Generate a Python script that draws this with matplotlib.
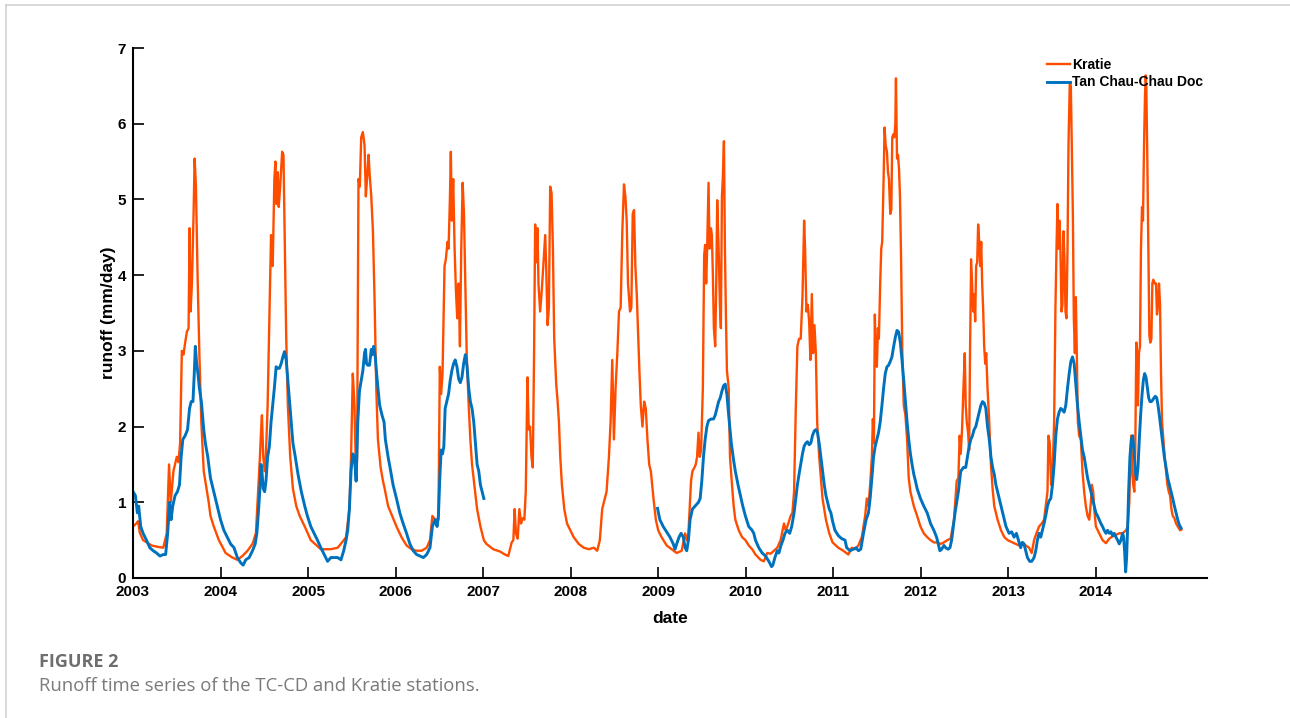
import matplotlib
matplotlib.use("Agg")
import matplotlib.pyplot as plt
from matplotlib.lines import Line2D

# Kratie runoff (mm/day), sampled at the turning points of the daily record
kratie_t = [
    2003.000, 2003.038, 2003.058, 2003.077, 2003.115, 2003.212, 2003.288, 2003.346, 2003.385, 2003.412,
    2003.431, 2003.462, 2003.500, 2003.519, 2003.538, 2003.558, 2003.577, 2003.596, 2003.615, 2003.635,
    2003.646, 2003.658, 2003.673, 2003.692, 2003.704, 2003.719, 2003.738, 2003.758, 2003.781, 2003.808,
    2003.846, 2003.865, 2003.885, 2003.923, 2003.981,
    2004.058, 2004.135, 2004.192, 2004.250, 2004.308, 2004.365, 2004.404, 2004.423, 2004.450, 2004.462,
    2004.473, 2004.488, 2004.504, 2004.519, 2004.538, 2004.558, 2004.577, 2004.596, 2004.615, 2004.627,
    2004.638, 2004.654, 2004.665, 2004.681, 2004.704, 2004.719, 2004.735, 2004.750, 2004.769, 2004.796,
    2004.827, 2004.865, 2004.904, 2004.962,
    2005.031, 2005.146, 2005.261, 2005.338, 2005.395, 2005.434, 2005.472, 2005.491, 2005.511, 2005.530,
    2005.549, 2005.560, 2005.576, 2005.591, 2005.607, 2005.626, 2005.645, 2005.660, 2005.676, 2005.691,
    2005.702, 2005.722, 2005.741, 2005.760, 2005.779, 2005.798, 2005.829, 2005.856, 2005.875, 2005.914,
    2005.960,
    2006.010, 2006.067, 2006.125, 2006.182, 2006.240, 2006.298, 2006.355, 2006.393, 2006.420, 2006.451,
    2006.489, 2006.505, 2006.520, 2006.536, 2006.559, 2006.574, 2006.593, 2006.605, 2006.620, 2006.631,
    2006.643, 2006.658, 2006.674, 2006.689, 2006.704, 2006.720, 2006.735, 2006.750, 2006.766, 2006.781,
    2006.797, 2006.812, 2006.835, 2006.854, 2006.873, 2006.904, 2006.931, 2006.969,
    2007.008, 2007.038, 2007.115, 2007.192, 2007.249, 2007.287, 2007.307, 2007.326, 2007.345, 2007.360,
    2007.375, 2007.395, 2007.414, 2007.433, 2007.452, 2007.471, 2007.487, 2007.506, 2007.521, 2007.536,
    2007.552, 2007.567, 2007.582, 2007.594, 2007.605, 2007.621, 2007.632, 2007.651, 2007.670, 2007.690,
    2007.709, 2007.720, 2007.736, 2007.751, 2007.766, 2007.782, 2007.797, 2007.812, 2007.835, 2007.851,
    2007.866, 2007.881, 2007.900, 2007.927, 2007.958, 2007.996,
    2008.034, 2008.092, 2008.149, 2008.207, 2008.264, 2008.303, 2008.333, 2008.360, 2008.379, 2008.410,
    2008.437, 2008.456, 2008.475, 2008.494, 2008.513, 2008.533, 2008.552, 2008.571, 2008.590, 2008.609,
    2008.625, 2008.640, 2008.655, 2008.678, 2008.693, 2008.709, 2008.724, 2008.739, 2008.755, 2008.770,
    2008.785, 2008.801, 2008.820, 2008.839, 2008.858, 2008.877, 2008.897, 2008.916, 2008.946, 2008.973,
    2009.000, 2009.038, 2009.096, 2009.153, 2009.211, 2009.268, 2009.307, 2009.326, 2009.345, 2009.375,
    2009.391, 2009.414, 2009.429, 2009.444, 2009.460, 2009.475, 2009.490, 2009.510, 2009.525, 2009.536,
    2009.548, 2009.559, 2009.575, 2009.586, 2009.602, 2009.613, 2009.625, 2009.636, 2009.651, 2009.663,
    2009.674, 2009.690, 2009.705, 2009.716, 2009.728, 2009.739, 2009.751, 2009.762, 2009.774, 2009.785,
    2009.805, 2009.820, 2009.843, 2009.862, 2009.881, 2009.920, 2009.958, 2009.996,
    2010.034, 2010.073, 2010.111, 2010.169, 2010.207, 2010.245, 2010.284, 2010.322, 2010.360, 2010.398,
    2010.437, 2010.456, 2010.475, 2010.513, 2010.533, 2010.552, 2010.571, 2010.590, 2010.609, 2010.628,
    2010.648, 2010.667, 2010.678, 2010.693, 2010.709, 2010.724, 2010.739, 2010.755, 2010.770, 2010.785,
    2010.801, 2010.816, 2010.839, 2010.858, 2010.877, 2010.916, 2010.954, 2010.992,
    2011.057, 2011.115, 2011.172, 2011.211, 2011.249, 2011.287, 2011.326, 2011.364, 2011.383, 2011.402,
    2011.421, 2011.441, 2011.452, 2011.464, 2011.475, 2011.487, 2011.498, 2011.510, 2011.521, 2011.536,
    2011.548, 2011.559, 2011.575, 2011.586, 2011.598, 2011.613, 2011.625, 2011.636, 2011.651, 2011.663,
    2011.674, 2011.686, 2011.697, 2011.709, 2011.716, 2011.728, 2011.739, 2011.751, 2011.762, 2011.774,
    2011.789, 2011.805, 2011.824, 2011.843, 2011.862, 2011.881, 2011.920, 2011.958, 2011.996,
    2012.034, 2012.073, 2012.111, 2012.149, 2012.188, 2012.226, 2012.264, 2012.303, 2012.341, 2012.379,
    2012.410, 2012.429, 2012.444, 2012.456, 2012.471, 2012.487, 2012.502, 2012.513, 2012.525, 2012.540,
    2012.552, 2012.563, 2012.575, 2012.586, 2012.598, 2012.609, 2012.621, 2012.632, 2012.644, 2012.655,
    2012.667, 2012.678, 2012.690, 2012.701, 2012.713, 2012.724, 2012.736, 2012.747, 2012.762, 2012.782,
    2012.801, 2012.820, 2012.839, 2012.877, 2012.916, 2012.954, 2012.992,
    2013.046, 2013.084, 2013.122, 2013.160, 2013.198, 2013.237, 2013.267, 2013.294, 2013.321, 2013.351,
    2013.382, 2013.408, 2013.427, 2013.447, 2013.458, 2013.473, 2013.489, 2013.504, 2013.523, 2013.538,
    2013.550, 2013.561, 2013.573, 2013.584, 2013.595, 2013.607, 2013.618, 2013.630, 2013.641, 2013.653,
    2013.664, 2013.676, 2013.687, 2013.702, 2013.714, 2013.725, 2013.737, 2013.748, 2013.760, 2013.771,
    2013.782, 2013.794, 2013.809, 2013.828, 2013.847, 2013.866, 2013.885, 2013.905, 2013.924, 2013.943,
    2013.954, 2013.969, 2013.985,
    2014.000, 2014.038, 2014.076, 2014.115, 2014.153, 2014.191, 2014.229, 2014.267, 2014.305, 2014.344,
    2014.363, 2014.382, 2014.393, 2014.405, 2014.416, 2014.427, 2014.439, 2014.450, 2014.462, 2014.473,
    2014.481, 2014.492, 2014.504, 2014.515, 2014.527, 2014.538, 2014.550, 2014.561, 2014.569, 2014.576,
    2014.588, 2014.599, 2014.611, 2014.622, 2014.634, 2014.645, 2014.656, 2014.672, 2014.687, 2014.698,
    2014.710, 2014.721, 2014.733, 2014.744, 2014.756, 2014.771, 2014.786, 2014.802, 2014.817, 2014.832,
    2014.847, 2014.863, 2014.878, 2014.897, 2014.916, 2014.935, 2014.962, 2014.977,
]
kratie_q = [
    0.68, 0.72, 0.75, 0.60, 0.50, 0.43, 0.41, 0.40, 0.59, 1.50,
    1.00, 1.41, 1.60, 1.53, 1.78, 3.00, 2.95, 3.11, 3.25, 3.30,
    4.62, 3.52, 3.89, 4.81, 5.54, 5.17, 3.98, 2.97, 2.05, 1.41,
    1.14, 1.00, 0.82, 0.68, 0.50,
    0.33, 0.27, 0.24, 0.29, 0.36, 0.45, 0.59, 1.00, 1.60, 1.92,
    2.15, 1.60, 1.41, 1.64, 2.28, 3.43, 4.53, 4.12, 5.27, 5.50,
    4.94, 5.36, 4.90, 5.17, 5.63, 5.59, 4.35, 3.20, 2.28, 1.60,
    1.18, 0.95, 0.82, 0.68,
    0.50, 0.38, 0.38, 0.40, 0.48, 0.54, 0.91, 1.60, 2.70, 2.28,
    1.28, 1.60, 5.27, 5.17, 5.82, 5.89, 5.72, 5.04, 5.31, 5.59,
    5.36, 5.04, 4.58, 3.66, 2.51, 1.83, 1.46, 1.28, 1.18, 0.95,
    0.82,
    0.68, 0.54, 0.43, 0.38, 0.36, 0.36, 0.40, 0.50, 0.82, 0.77,
    0.77, 2.79, 2.43, 2.70, 4.12, 4.21, 4.44, 4.35, 4.99, 5.63,
    4.72, 5.27, 4.35, 3.80, 3.43, 3.89, 3.06, 4.35, 5.22, 4.81,
    3.89, 2.97, 2.28, 1.83, 1.50, 1.18, 0.91, 0.68,
    0.50, 0.45, 0.38, 0.35, 0.31, 0.29, 0.38, 0.47, 0.50, 0.91,
    0.59, 0.52, 0.91, 0.72, 0.79, 0.77, 1.14, 2.65, 1.96, 2.00,
    1.60, 1.46, 2.97, 4.67, 4.17, 4.62, 3.89, 3.52, 3.80, 4.17,
    4.53, 4.12, 3.34, 3.57, 5.17, 5.08, 4.35, 3.16, 2.56, 2.33,
    2.06, 1.60, 1.23, 0.91, 0.72, 0.63,
    0.54, 0.45, 0.40, 0.38, 0.40, 0.36, 0.50, 0.91, 1.00, 1.14,
    1.60, 2.06, 2.88, 1.83, 2.51, 2.97, 3.52, 3.57, 4.58, 5.20,
    5.04, 4.72, 3.89, 3.52, 3.57, 4.81, 4.86, 4.12, 3.75, 3.25,
    2.74, 2.28, 2.00, 2.33, 2.24, 1.83, 1.50, 1.41, 1.05, 0.77,
    0.63, 0.54, 0.43, 0.38, 0.33, 0.36, 0.59, 0.50, 0.59, 1.28,
    1.41, 1.46, 1.50, 1.60, 1.92, 1.60, 1.69, 2.51, 4.26, 4.40,
    3.89, 4.35, 5.22, 4.35, 4.62, 4.53, 3.98, 3.30, 3.06, 3.89,
    4.99, 4.35, 3.61, 3.30, 5.04, 5.31, 5.77, 4.35, 3.43, 2.74,
    2.51, 1.60, 1.23, 0.95, 0.77, 0.63, 0.54, 0.50,
    0.43, 0.38, 0.31, 0.24, 0.22, 0.33, 0.32, 0.36, 0.40, 0.50,
    0.72, 0.63, 0.68, 0.82, 0.86, 1.14, 2.20, 3.06, 3.16, 3.16,
    3.71, 4.72, 4.35, 3.52, 3.61, 3.39, 2.88, 3.75, 2.97, 3.34,
    2.97, 2.06, 1.60, 1.32, 1.05, 0.77, 0.59, 0.47,
    0.40, 0.36, 0.31, 0.40, 0.38, 0.43, 0.54, 0.82, 1.05, 0.95,
    1.23, 1.60, 2.10, 1.78, 3.48, 2.83, 2.79, 3.30, 3.16, 3.89,
    4.35, 4.44, 5.27, 5.95, 5.72, 5.63, 5.36, 5.27, 4.81, 4.86,
    5.82, 5.86, 5.82, 6.00, 6.60, 5.54, 5.59, 5.40, 5.04, 4.26,
    2.97, 2.28, 2.15, 1.83, 1.32, 1.14, 0.95, 0.82, 0.68,
    0.59, 0.54, 0.50, 0.47, 0.47, 0.45, 0.47, 0.50, 0.52, 0.77,
    1.28, 1.32, 1.88, 1.64, 1.96, 2.51, 2.97, 2.28, 2.06, 1.92,
    1.69, 3.06, 4.21, 3.89, 3.52, 3.75, 3.39, 4.12, 4.17, 4.67,
    4.44, 4.12, 4.44, 3.89, 3.52, 3.06, 2.83, 2.97, 2.51, 2.06,
    1.50, 1.18, 0.95, 0.77, 0.63, 0.54, 0.50,
    0.47, 0.45, 0.43, 0.47, 0.43, 0.40, 0.33, 0.50, 0.59, 0.68,
    0.72, 0.77, 0.95, 1.14, 1.88, 1.78, 1.23, 1.37, 2.06, 3.57,
    4.35, 4.94, 4.35, 4.72, 4.35, 3.52, 3.61, 4.58, 4.21, 3.52,
    3.43, 4.35, 5.72, 6.55, 6.50, 5.72, 4.81, 3.43, 2.97, 3.71,
    2.97, 2.06, 1.88, 1.83, 1.41, 1.14, 0.95, 0.82, 0.77, 1.00,
    1.23, 1.14, 0.86,
    0.68, 0.59, 0.50, 0.46, 0.52, 0.55, 0.57, 0.59, 0.59, 0.63,
    0.68, 1.00, 1.60, 1.88, 1.37, 1.23, 1.14, 1.69, 3.11, 2.70,
    2.28, 2.97, 3.06, 4.35, 4.90, 4.72, 5.72, 6.37, 6.64, 6.50,
    5.50, 4.35, 3.20, 3.11, 3.16, 3.89, 3.94, 3.89, 3.89, 3.48,
    3.61, 3.89, 3.61, 2.70, 2.06, 1.83, 1.60, 1.41, 1.23, 1.14,
    1.09, 0.91, 0.82, 0.79, 0.72, 0.68, 0.63, 0.64,
]

# Tan Chau-Chau Doc runoff (mm/day); no record between 2007 and 2009
nan = float("nan")
tccd_t = [
    2003.000, 2003.027, 2003.050, 2003.065, 2003.088, 2003.115, 2003.154, 2003.192, 2003.231, 2003.269,
    2003.308, 2003.346, 2003.373, 2003.396, 2003.419, 2003.435, 2003.454, 2003.481, 2003.508, 2003.531,
    2003.550, 2003.569, 2003.596, 2003.623, 2003.646, 2003.665, 2003.685, 2003.700, 2003.712, 2003.727,
    2003.742, 2003.758, 2003.781, 2003.808, 2003.827, 2003.854, 2003.885, 2003.923, 2003.962,
    2004.000, 2004.038, 2004.077, 2004.115, 2004.154, 2004.192, 2004.231, 2004.258, 2004.288, 2004.327,
    2004.365, 2004.396, 2004.415, 2004.435, 2004.450, 2004.462, 2004.473, 2004.488, 2004.504, 2004.519,
    2004.538, 2004.558, 2004.577, 2004.596, 2004.615, 2004.635, 2004.654, 2004.673, 2004.692, 2004.712,
    2004.731, 2004.750, 2004.769, 2004.788, 2004.808, 2004.827, 2004.854, 2004.885, 2004.923, 2004.962,
    2004.992,
    2005.031, 2005.069, 2005.107, 2005.146, 2005.184, 2005.223, 2005.261, 2005.299, 2005.338, 2005.376,
    2005.407, 2005.434, 2005.453, 2005.472, 2005.491, 2005.511, 2005.530, 2005.549, 2005.568, 2005.587,
    2005.607, 2005.626, 2005.645, 2005.656, 2005.668, 2005.683, 2005.702, 2005.722, 2005.733, 2005.749,
    2005.768, 2005.783, 2005.798, 2005.818, 2005.845, 2005.868, 2005.883, 2005.914, 2005.944, 2005.971,
    2006.010, 2006.048, 2006.086, 2006.125, 2006.163, 2006.202, 2006.240, 2006.278, 2006.317, 2006.355,
    2006.393, 2006.420, 2006.451, 2006.474, 2006.489, 2006.505, 2006.520, 2006.536, 2006.551, 2006.566,
    2006.585, 2006.605, 2006.624, 2006.643, 2006.662, 2006.681, 2006.701, 2006.720, 2006.739, 2006.758,
    2006.777, 2006.797, 2006.816, 2006.835, 2006.854, 2006.873, 2006.893, 2006.912, 2006.931, 2006.950,
    2006.969, 2006.988, 2007.008,
    2008.000,
    2008.992, 2009.019, 2009.057, 2009.096, 2009.134, 2009.172, 2009.192, 2009.211, 2009.238, 2009.261,
    2009.287, 2009.307, 2009.326, 2009.345, 2009.364, 2009.391, 2009.421, 2009.460, 2009.479, 2009.498,
    2009.517, 2009.536, 2009.556, 2009.575, 2009.605, 2009.632, 2009.651, 2009.670, 2009.690, 2009.709,
    2009.728, 2009.747, 2009.766, 2009.785, 2009.805, 2009.835, 2009.862, 2009.881, 2009.912, 2009.939,
    2009.966, 2009.996,
    2010.034, 2010.073, 2010.092, 2010.111, 2010.149, 2010.188, 2010.226, 2010.264, 2010.295, 2010.310,
    2010.333, 2010.360, 2010.379, 2010.402, 2010.425, 2010.448, 2010.475, 2010.502, 2010.525, 2010.552,
    2010.571, 2010.590, 2010.609, 2010.628, 2010.648, 2010.667, 2010.686, 2010.705, 2010.724, 2010.743,
    2010.762, 2010.782, 2010.801, 2010.820, 2010.839, 2010.858, 2010.877, 2010.897, 2010.916, 2010.935,
    2010.954, 2010.973, 2010.992,
    2011.019, 2011.057, 2011.096, 2011.134, 2011.153, 2011.192, 2011.230, 2011.261, 2011.287, 2011.314,
    2011.345, 2011.375, 2011.402, 2011.421, 2011.441, 2011.460, 2011.479, 2011.498, 2011.517, 2011.536,
    2011.556, 2011.575, 2011.594, 2011.613, 2011.632, 2011.651, 2011.670, 2011.690, 2011.709, 2011.728,
    2011.747, 2011.766, 2011.785, 2011.805, 2011.824, 2011.843, 2011.862, 2011.881, 2011.900, 2011.920,
    2011.939, 2011.958, 2011.996,
    2012.034, 2012.073, 2012.111, 2012.149, 2012.180, 2012.195, 2012.218, 2012.238, 2012.264, 2012.284,
    2012.310, 2012.333, 2012.352, 2012.372, 2012.391, 2012.410, 2012.429, 2012.456, 2012.487, 2012.513,
    2012.533, 2012.552, 2012.571, 2012.590, 2012.609, 2012.628, 2012.648, 2012.667, 2012.686, 2012.705,
    2012.724, 2012.743, 2012.762, 2012.782, 2012.801, 2012.820, 2012.839, 2012.858, 2012.877, 2012.897,
    2012.916, 2012.935, 2012.954, 2012.973,
    2013.008, 2013.038, 2013.065, 2013.092, 2013.115, 2013.141, 2013.160, 2013.179, 2013.198, 2013.218,
    2013.244, 2013.267, 2013.294, 2013.313, 2013.332, 2013.351, 2013.370, 2013.389, 2013.408, 2013.427,
    2013.447, 2013.466, 2013.485, 2013.504, 2013.523, 2013.542, 2013.561, 2013.580, 2013.599, 2013.618,
    2013.637, 2013.656, 2013.676, 2013.695, 2013.714, 2013.733, 2013.752, 2013.771, 2013.790, 2013.809,
    2013.828, 2013.847, 2013.866, 2013.885, 2013.905, 2013.924, 2013.943, 2013.962, 2013.981,
    2014.000, 2014.019, 2014.038, 2014.057, 2014.076, 2014.095, 2014.115, 2014.134, 2014.153, 2014.172,
    2014.191, 2014.210, 2014.229, 2014.248, 2014.267, 2014.286, 2014.305, 2014.317, 2014.328, 2014.340,
    2014.351, 2014.363, 2014.374, 2014.389, 2014.405, 2014.420, 2014.435, 2014.450, 2014.466, 2014.481,
    2014.496, 2014.511, 2014.527, 2014.542, 2014.557, 2014.573, 2014.588, 2014.603, 2014.618, 2014.634,
    2014.649, 2014.664, 2014.679, 2014.695, 2014.710, 2014.725, 2014.744, 2014.763, 2014.782, 2014.802,
    2014.821, 2014.840, 2014.859, 2014.878, 2014.897, 2014.916, 2014.935, 2014.954, 2014.973,
]
tccd_q = [
    1.14, 1.09, 0.86, 0.95, 0.68, 0.59, 0.50, 0.40, 0.36, 0.33,
    0.29, 0.31, 0.31, 0.59, 1.00, 0.77, 0.95, 1.09, 1.14, 1.23,
    1.60, 1.83, 1.88, 1.96, 2.24, 2.33, 2.33, 2.70, 3.06, 2.83,
    2.70, 2.51, 2.33, 1.96, 1.78, 1.60, 1.32, 1.14, 0.95,
    0.77, 0.63, 0.54, 0.45, 0.40, 0.27, 0.20, 0.17, 0.24, 0.27,
    0.36, 0.45, 0.59, 0.91, 1.18, 1.50, 1.41, 1.18, 1.14, 1.28,
    1.60, 1.74, 2.06, 2.28, 2.51, 2.79, 2.77, 2.77, 2.83, 2.92,
    2.99, 2.88, 2.61, 2.33, 2.06, 1.78, 1.60, 1.37, 1.14, 0.95,
    0.82,
    0.68, 0.59, 0.50, 0.40, 0.31, 0.22, 0.27, 0.27, 0.27, 0.24,
    0.36, 0.50, 0.63, 0.91, 1.41, 1.64, 1.60, 1.28, 2.06, 2.47,
    2.61, 2.74, 2.97, 3.02, 2.83, 2.81, 2.81, 3.02, 2.95, 3.06,
    2.92, 2.70, 2.51, 2.28, 2.15, 2.06, 1.83, 1.60, 1.41, 1.23,
    1.05, 0.86, 0.72, 0.59, 0.45, 0.36, 0.31, 0.29, 0.27, 0.31,
    0.40, 0.68, 0.77, 0.68, 0.82, 1.32, 1.69, 1.64, 1.74, 2.24,
    2.33, 2.43, 2.61, 2.74, 2.83, 2.88, 2.79, 2.63, 2.58, 2.65,
    2.83, 2.95, 2.79, 2.51, 2.33, 2.24, 2.06, 1.78, 1.50, 1.41,
    1.23, 1.14, 1.05,
    nan,
    0.92, 0.77, 0.68, 0.61, 0.54, 0.45, 0.38, 0.45, 0.54, 0.59,
    0.54, 0.40, 0.36, 0.50, 0.77, 0.91, 0.95, 1.00, 1.05, 1.28,
    1.60, 1.83, 2.00, 2.08, 2.10, 2.10, 2.15, 2.24, 2.33, 2.38,
    2.47, 2.54, 2.56, 2.42, 2.15, 1.78, 1.55, 1.41, 1.23, 1.09,
    0.95, 0.82,
    0.68, 0.63, 0.59, 0.50, 0.40, 0.33, 0.29, 0.22, 0.15, 0.17,
    0.27, 0.36, 0.33, 0.43, 0.50, 0.59, 0.63, 0.59, 0.68, 0.86,
    1.05, 1.23, 1.37, 1.50, 1.64, 1.74, 1.78, 1.80, 1.76, 1.78,
    1.88, 1.94, 1.96, 1.92, 1.78, 1.60, 1.41, 1.23, 1.09, 1.00,
    0.91, 0.86, 0.75,
    0.63, 0.56, 0.52, 0.50, 0.40, 0.36, 0.38, 0.40, 0.36, 0.38,
    0.59, 0.77, 0.86, 1.05, 1.32, 1.60, 1.74, 1.83, 1.92, 2.06,
    2.28, 2.51, 2.70, 2.79, 2.81, 2.86, 2.92, 3.06, 3.18, 3.27,
    3.25, 3.11, 2.88, 2.61, 2.33, 2.06, 1.83, 1.64, 1.50, 1.37,
    1.28, 1.18, 1.05,
    0.95, 0.86, 0.72, 0.63, 0.54, 0.47, 0.36, 0.38, 0.43, 0.40,
    0.38, 0.40, 0.50, 0.68, 0.86, 1.00, 1.14, 1.41, 1.46, 1.46,
    1.60, 1.74, 1.83, 1.88, 1.96, 2.00, 2.10, 2.19, 2.28, 2.33,
    2.31, 2.24, 2.00, 1.83, 1.60, 1.46, 1.37, 1.23, 1.14, 1.05,
    0.95, 0.86, 0.77, 0.68,
    0.59, 0.61, 0.54, 0.59, 0.50, 0.40, 0.47, 0.45, 0.36, 0.27,
    0.22, 0.22, 0.27, 0.36, 0.50, 0.59, 0.54, 0.63, 0.72, 0.82,
    0.95, 1.02, 1.05, 1.23, 1.50, 1.88, 2.10, 2.19, 2.24, 2.22,
    2.19, 2.28, 2.51, 2.70, 2.86, 2.92, 2.83, 2.56, 2.28, 2.06,
    1.88, 1.69, 1.60, 1.46, 1.32, 1.23, 1.14, 1.05, 0.95,
    0.86, 0.82, 0.77, 0.72, 0.68, 0.63, 0.59, 0.63, 0.59, 0.61,
    0.56, 0.59, 0.54, 0.50, 0.45, 0.50, 0.59, 0.54, 0.36, 0.08,
    0.27, 0.68, 1.14, 1.60, 1.83, 1.88, 1.69, 1.41, 1.30, 1.46,
    1.83, 2.15, 2.42, 2.61, 2.70, 2.65, 2.51, 2.38, 2.33, 2.33,
    2.35, 2.38, 2.40, 2.38, 2.28, 2.15, 1.96, 1.78, 1.60, 1.46,
    1.32, 1.23, 1.14, 1.05, 0.95, 0.86, 0.77, 0.70, 0.66,
]

year_ticks = list(range(2003, 2015))
runoff_ticks = list(range(0, 8))

plt.rcParams["font.family"] = "Liberation Sans"
plt.rcParams["font.weight"] = "bold"

fig = plt.figure(figsize=(12.9, 7.18), dpi=100)
ax = fig.add_axes([0.1031, 0.195, 0.8326, 0.7381])

ax.plot(kratie_t, kratie_q, color="#ff4d00", lw=1.7, label="Kratie")
ax.plot(tccd_t, tccd_q, color="#0072bd", lw=2.1, label="Tan Chau-Chau Doc")

ax.set_xlim(2003, 2015.27)
ax.set_ylim(0, 7)
ax.set_xticks(year_ticks)
ax.set_xticklabels([str(y) for y in year_ticks])
ax.set_yticks(runoff_ticks)

for side in ["top", "right"]:
    ax.spines[side].set_visible(False)
for side in ["left", "bottom"]:
    ax.spines[side].set_linewidth(1.5)

ax.tick_params(direction="in", length=8, width=1.2, labelsize=11, pad=5)
ax.set_xlabel("date", fontsize=12.5, fontweight="bold", labelpad=9)
ax.set_ylabel("runoff (mm/day)", fontsize=12.5, fontweight="bold", labelpad=1)

ax.legend(loc="upper left", bbox_to_anchor=(1047 / 1290, 1 - 58 / 718),
          bbox_transform=fig.transFigure, frameon=False, fontsize=10,
          handlelength=1.65, handletextpad=0.15, labelspacing=0.25,
          borderpad=0, borderaxespad=0)

# page frame and caption
fig.add_artist(Line2D([6 / 1290, 1], [1 - 5 / 718, 1 - 5 / 718],
                      transform=fig.transFigure, color="#d2d2d2", lw=1.2))
fig.add_artist(Line2D([6 / 1290, 6 / 1290], [0, 1 - 5 / 718],
                      transform=fig.transFigure, color="#d2d2d2", lw=1.2))
fig.text(39 / 1290, 1 - 662 / 718, "FIGURE 2", family="Open Sans",
         fontsize=13, fontweight="bold", color="#6e6e6e", va="center")
fig.text(39 / 1290, 1 - 686 / 718, "Runoff time series of the TC-CD and Kratie stations.",
         family="Open Sans", fontsize=13.3, fontweight="normal", color="#7a7a7a", va="center")

fig.savefig("out.png", dpi=100, facecolor="white")
